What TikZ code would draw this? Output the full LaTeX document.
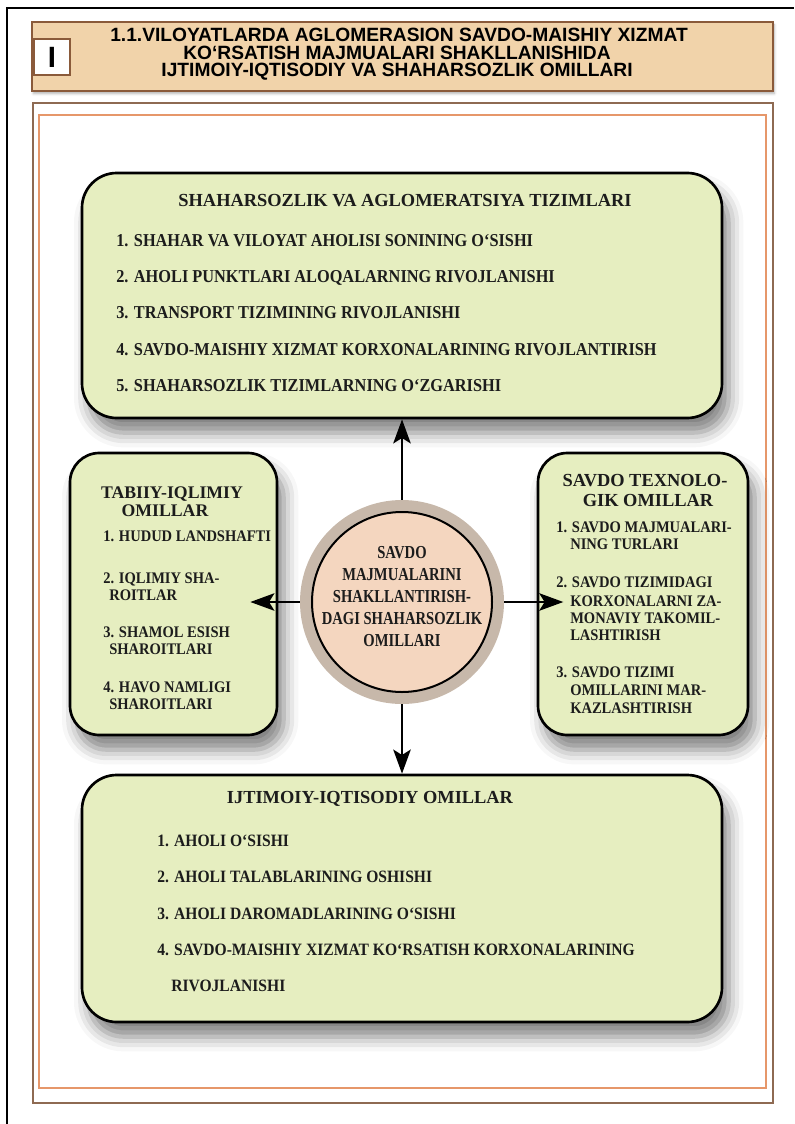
\documentclass[tikz,border=0pt]{standalone}
\usepackage{fontspec}
\setmainfont{Liberation Serif}
\newfontfamily\headfont{Liberation Sans}
\newfontfamily\itemfont[FakeStretch=0.9]{Liberation Serif}
\newfontfamily\hubfont[FakeStretch=0.8]{Liberation Serif}
\usetikzlibrary{arrows.meta,shadows.blur}

\definecolor{capfill}{HTML}{F1D3AA}
\definecolor{capline}{HTML}{8A5A3A}
\definecolor{frameline}{HTML}{8E6A52}
\definecolor{frameorange}{HTML}{E6976A}
\definecolor{boxfill}{HTML}{E6EEC0}
\definecolor{ringfill}{HTML}{C7B8AA}
\definecolor{corefill}{HTML}{F4D6BF}
\definecolor{ink}{HTML}{1C1C1C}

\begin{document}
\begin{tikzpicture}[x=0.75pt, y=-0.75pt,
  greenbox/.style={draw=black, line width=2pt, fill=boxfill, rounded corners=26pt, inner sep=0pt,
    blur shadow={shadow xshift=5pt, shadow yshift=-11pt, shadow blur radius=11pt, shadow opacity=50}},
  headline/.style={anchor=base, inner sep=0pt, font=\headfont\bfseries\fontsize{14.4}{14}\selectfont},
  boxtitle/.style={anchor=base, inner sep=0pt, text=ink, font=\bfseries\fontsize{13.8}{14}\selectfont},
  sidetitle/.style={anchor=base, inner sep=0pt, text=ink, font=\bfseries\fontsize{13.3}{14}\selectfont},
  boxitem/.style={anchor=base west, inner sep=0pt, text=ink, font=\itemfont\bfseries\fontsize{13.6}{14}\selectfont},
  sideitem/.style={anchor=base west, inner sep=0pt, text=ink, font=\itemfont\bfseries\fontsize{12.1}{13}\selectfont},
  hubline/.style={anchor=base, inner sep=0pt, text=ink, font=\hubfont\bfseries\fontsize{13.7}{14}\selectfont},
  link/.style={line width=2.2pt, -{Stealth[length=18pt, width=13pt, inset=4pt]}}]

\useasboundingbox (0,0) rectangle (794,1124);

\draw[line width=1.1pt] (7,1124) -- (7,8) -- (794,8);

\node(caption)[draw=capline, line width=2pt, fill=capfill, minimum width=555.75pt, minimum height=51.75pt,
  blur shadow={shadow xshift=1pt, shadow yshift=-2pt, shadow opacity=30}] at (402.5,56.5) {};
\node(num)[draw=capline, line width=1pt, fill=white, minimum width=27pt, minimum height=27pt, inner sep=0pt,
  font=\headfont\bfseries\fontsize{22}{22}\selectfont] at (52,57) {I};

\node(head1)[headline] at (399,41.7) {1.1.VILOYATLARDA AGLOMERASION SAVDO-MAISHIY XIZMAT};
\node(head2)[headline] at (397,59.7) {KO‘RSATISH MAJMUALARI SHAKLLANISHIDA};
\node(head3)[headline] at (397,76.7) {IJTIMOIY-IQTISODIY VA SHAHARSOZLIK OMILLARI};

\draw[frameline, line width=1.6pt] (33,103) rectangle (773,1103);
\draw[frameorange, line width=1.2pt] (39,115) rectangle (766,1088);

\node(urban)[greenbox, minimum width=480pt, minimum height=183.75pt] at (402,295.5) {};
\node(nature)[greenbox, rounded corners=22pt, minimum width=155.25pt, minimum height=211.5pt] at (173.5,594) {};
\node(tech)[greenbox, rounded corners=22pt, minimum width=157.5pt, minimum height=211.5pt] at (643,594) {};
\node(social)[greenbox, minimum width=480pt, minimum height=185.25pt] at (402,898.5) {};

\node(hub)[circle, fill=ringfill, minimum size=153pt, inner sep=0pt] at (402,602) {};
\node(core)[circle, draw=black, line width=1.5pt, fill=corefill, minimum size=135pt, inner sep=0pt] at (hub) {};

\draw[link] (hub.north) -- (urban.south);
\draw[link] (hub.south) -- (social.north);
\draw[link, shorten >=-21pt] (hub.west) -- (hub.west -| nature.east);
\draw[link, shorten >=-20pt] (hub.east) -- (hub.east -| tech.west);

\node(urbantitle)[boxtitle] at (405,206) {SHAHARSOZLIK VA AGLOMERATSIYA TIZIMLARI};
\foreach \txt [count=\i] in {1. SHAHAR VA VILOYAT AHOLISI SONINING O‘SISHI,
  2. AHOLI PUNKTLARI ALOQALARNING RIVOJLANISHI,
  3. TRANSPORT TIZIMINING RIVOJLANISHI,
  4. SAVDO-MAISHIY XIZMAT KORXONALARINING RIVOJLANTIRISH,
  5. SHAHARSOZLIK TIZIMLARNING O‘ZGARISHI}
  \node(urban\i)[boxitem] at (116,209.6+36.4*\i) {\txt};

\node(naturetitle1)[sidetitle] at (172,498) {TABIIY-IQLIMIY};
\node(naturetitle2)[sidetitle] at (165,516) {OMILLAR};
\foreach \xx/\yy/\txt [count=\i] in {103/541/1. HUDUD LANDSHAFTI, 103/583/2. IQLIMIY SHA-,
  109/600/ROITLAR, 103/637/3. SHAMOL ESISH, 109/654/SHAROITLARI,
  103/692/4. HAVO NAMLIGI, 109/709/SHAROITLARI}
  \node(nature\i)[sideitem] at (\xx,\yy) {\txt};

\node(techtitle1)[sidetitle, font=\bfseries\fontsize{13.8}{14}\selectfont] at (645,486) {SAVDO TEXNOLO-};
\node(techtitle2)[sidetitle, font=\bfseries\fontsize{13.8}{14}\selectfont] at (648,506) {GIK OMILLAR};
\foreach \xx/\yy/\txt [count=\i] in {556/532/1. SAVDO MAJMUALARI-, 570/549/NING TURLARI,
  556/587/2. SAVDO TIZIMIDAGI, 570/606/KORXONALARNI ZA-, 570/623/MONAVIY TAKOMIL-,
  570/640/LASHTIRISH, 556/677/3. SAVDO TIZIMI, 570/695/OMILLARINI MAR-, 570/713/KAZLASHTIRISH}
  \node(tech\i)[sideitem] at (\xx,\yy) {\txt};

\foreach \yy/\txt [count=\i] in {558/SAVDO, 580/MAJMUALARINI, 602/SHAKLLANTIRISH-,
  624/DAGI SHAHARSOZLIK, 646/OMILLARI}
  \node(hubtext\i)[hubline] at (402,\yy) {\txt};

\node(socialtitle)[boxtitle] at (370,803) {IJTIMOIY-IQTISODIY OMILLAR};
\foreach \xx/\txt [count=\i] in {157/1. AHOLI O‘SISHI, 157/2. AHOLI TALABLARINING OSHISHI,
  157/3. AHOLI DAROMADLARINING O‘SISHI, 157/4. SAVDO-MAISHIY XIZMAT KO‘RSATISH KORXONALARINING,
  171/RIVOJLANISHI}
  \node(social\i)[boxitem, font=\itemfont\bfseries\fontsize{13}{14}\selectfont] at (\xx,810.5+36.2*\i) {\txt};

\end{tikzpicture}
\end{document}
